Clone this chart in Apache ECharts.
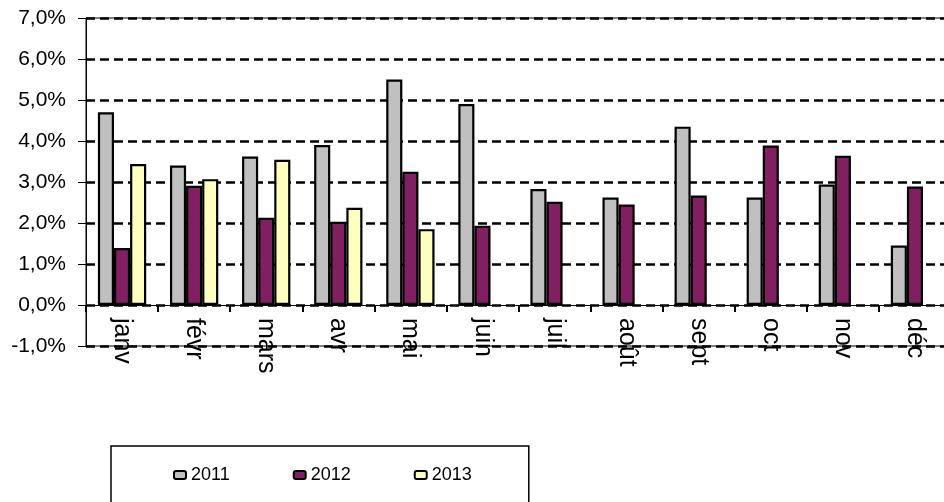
<!DOCTYPE html>
<html>
<head>
<meta charset="utf-8">
<script src="https://cdn.jsdelivr.net/npm/echarts@6/dist/echarts.min.js"></script>
<style>
    html, body { margin: 0; padding: 0; background: #fff; }
    #chart { width: 944px; height: 502px; }
</style>
</head>
<body>
<div id="chart"></div>
<script>
    // ========= 数据 =========
    const months = ["janv", "févr", "mars", "avr", "mai", "juin", "juil", "août", "sept", "oct", "nov", "déc"];
    const years = ["2011", "2012", "2013"];
    const v2011 = [4.7, 3.4, 3.62, 3.9, 5.5, 4.9, 2.83, 2.62, 4.35, 2.62, 2.94, 1.45];
    const v2012 = [1.39, 2.91, 2.13, 2.03, 3.25, 1.93, 2.52, 2.45, 2.67, 3.89, 3.64, 2.89];
    const v2013 = [3.44, 3.07, 3.54, 2.37, 1.85, null, null, null, null, null, null, null];
    const yTicks = [-1, 0, 1, 2, 3, 4, 5, 6, 7];

    const colors = ["#c0c0c0", "#802060", "#ffffc0"];
    const font = "'Liberation Sans', Arial, sans-serif";

    const chart = echarts.init(document.getElementById("chart"));

    function makeSeries(name, data, i) {
        return {
            name,
            type: "bar",
            data,
            barGap: "0%",
            barCategoryGap: "33%",
            itemStyle: { color: colors[i], borderColor: "#000", borderWidth: 2.2 }
        };
    }

    chart.setOption({
        animation: false,
        grid: {
            left: 86, top: 18, width: 865, height: 328,
            show: true, borderColor: "#000", borderWidth: 1, backgroundColor: "transparent",
            outerBoundsMode: "none"
        },
        legend: {
            left: 111, top: 446,
            padding: [20, 57, 40, 62],
            borderColor: "#000", borderWidth: 1.5,
            itemWidth: 12, itemHeight: 8, itemGap: 63,
            data: years,
            textStyle: { fontFamily: font, fontSize: 18, color: "#000" }
        },
        xAxis: {
            type: "category",
            data: months,
            axisLine: { onZero: true, lineStyle: { color: "#000", width: 1 } },
            axisTick: { show: true, length: 7, lineStyle: { color: "#000", width: 2 } },
            axisLabel: {
                // 标签在 v6 里是按网格底边放的，这里往上拉回到 0 轴下方
                rotate: -90, margin: -28, interval: 0,
                fontFamily: font, fontSize: 25, color: "#000"
            }
        },
        yAxis: {
            type: "value",
            min: yTicks[0], max: yTicks[yTicks.length - 1], interval: 1,
            axisLine: { show: true, lineStyle: { color: "#000", width: 1 } },
            axisTick: { show: true, length: 8, lineStyle: { color: "#000", width: 1 } },
            axisLabel: {
                margin: 20, color: "#000",
                fontFamily: font, fontSize: 21,
                formatter: v => v.toFixed(1).replace(".", ",") + "%"
            },
            splitLine: { show: true, lineStyle: { color: "#000", width: 2.5, type: [9, 5] } }
        },
        series: [
            makeSeries(years[0], v2011, 0),
            makeSeries(years[1], v2012, 1),
            makeSeries(years[2], v2013, 2)
        ]
    });
</script>
</body>
</html>
